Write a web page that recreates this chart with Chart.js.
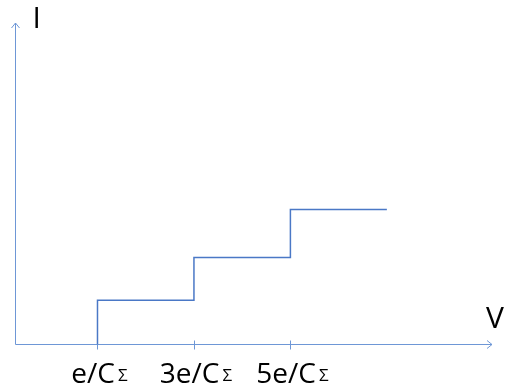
<!DOCTYPE html>
<html>
<head>
<meta charset="utf-8">
<style>
  html, body { margin: 0; padding: 0; background: #fff; }
  #wrap { width: 507px; height: 385px; }
</style>
<script src="https://cdn.jsdelivr.net/npm/chart.js@4/dist/chart.umd.min.js"></script>
</head>
<body>
<div id="wrap"><canvas id="chart" width="507" height="385"></canvas></div>
<script>
// step I-V curve (Coulomb staircase), voltage in units of e/CΣ
// corner points of the staircase
const voltages = [1, 1, 3, 3, 5, 5, 7];
const currents = [0, 0.98, 0.98, 1.93, 1.93, 3.0, 3.0];

// tick positions on the V axis and their labels
const tickValues = [1, 3, 5];
const tickLabels = ['e/C', '3e/C', '5e/C'];
const tickSub = 'Σ';

const axisColor = '#6e97d6';
const lineColor = '#4a78c6';

// axes with arrows, tick marks and text drawn against the scales
const axesPlugin = {
  id: 'axesPlugin',
  beforeDatasetsDraw(chart) {
    const { ctx, chartArea: a, scales } = chart;
    const x = scales.x;
    ctx.save();
    ctx.strokeStyle = axisColor;
    ctx.lineWidth = 1;
    ctx.beginPath();
    ctx.moveTo(a.left, a.bottom);
    ctx.lineTo(a.left, a.top);
    ctx.moveTo(a.left, a.bottom);
    ctx.lineTo(a.right, a.bottom);
    // arrow heads
    ctx.moveTo(a.left - 4, a.top + 5);
    ctx.lineTo(a.left, a.top);
    ctx.lineTo(a.left + 4, a.top + 5);
    ctx.moveTo(a.right - 5, a.bottom - 4);
    ctx.lineTo(a.right, a.bottom);
    ctx.lineTo(a.right - 5, a.bottom + 4);
    // tick marks
    tickValues.forEach(v => {
      const px = Math.round(x.getPixelForValue(v)) + 0.5;
      ctx.moveTo(px, a.bottom - 4);
      ctx.lineTo(px, a.bottom + 5);
    });
    ctx.stroke();
    ctx.restore();
  },
  afterDraw(chart) {
    const { ctx, chartArea: a, scales } = chart;
    const x = scales.x;
    ctx.save();
    ctx.fillStyle = '#000';
    ctx.textBaseline = 'alphabetic';
    // axis names
    ctx.font = '30px "Open Sans"';
    ctx.textAlign = 'left';
    ctx.fillText('I', a.left + 17, a.top + 5);
    ctx.fillText('V', a.right - 6, a.bottom - 17);
    // tick labels with small Σ
    tickValues.forEach((v, i) => {
      const px = x.getPixelForValue(v);
      ctx.font = '28px "Open Sans"';
      const w1 = ctx.measureText(tickLabels[i]).width;
      ctx.font = '17px "Open Sans"';
      const w2 = ctx.measureText(tickSub).width;
      const start = px - (w1 + 3 + w2) / 2 + 2;
      ctx.font = '28px "Open Sans"';
      ctx.fillText(tickLabels[i], start, a.bottom + 38);
      ctx.font = '17px "Open Sans"';
      ctx.fillText(tickSub, start + w1 + 3, a.bottom + 36);
    });
    ctx.restore();
  }
};

new Chart(document.getElementById('chart'), {
  type: 'line',
  data: {
    datasets: [{
      data: voltages.map((v, i) => ({ x: v, y: currents[i] })),
      borderColor: lineColor,
      borderWidth: 1.5,
      pointRadius: 0,
      fill: false
    }]
  },
  options: {
    responsive: false,
    animation: false,
    layout: { padding: { left: 15.5, right: 15, top: 23, bottom: 40.5 } },
    plugins: { legend: { display: false }, tooltip: { enabled: false } },
    scales: {
      x: { type: 'linear', min: -0.7, max: 9.18, display: false },
      y: { type: 'linear', min: 0, max: 7.14, display: false }
    }
  },
  plugins: [axesPlugin]
});
</script>
</body>
</html>
